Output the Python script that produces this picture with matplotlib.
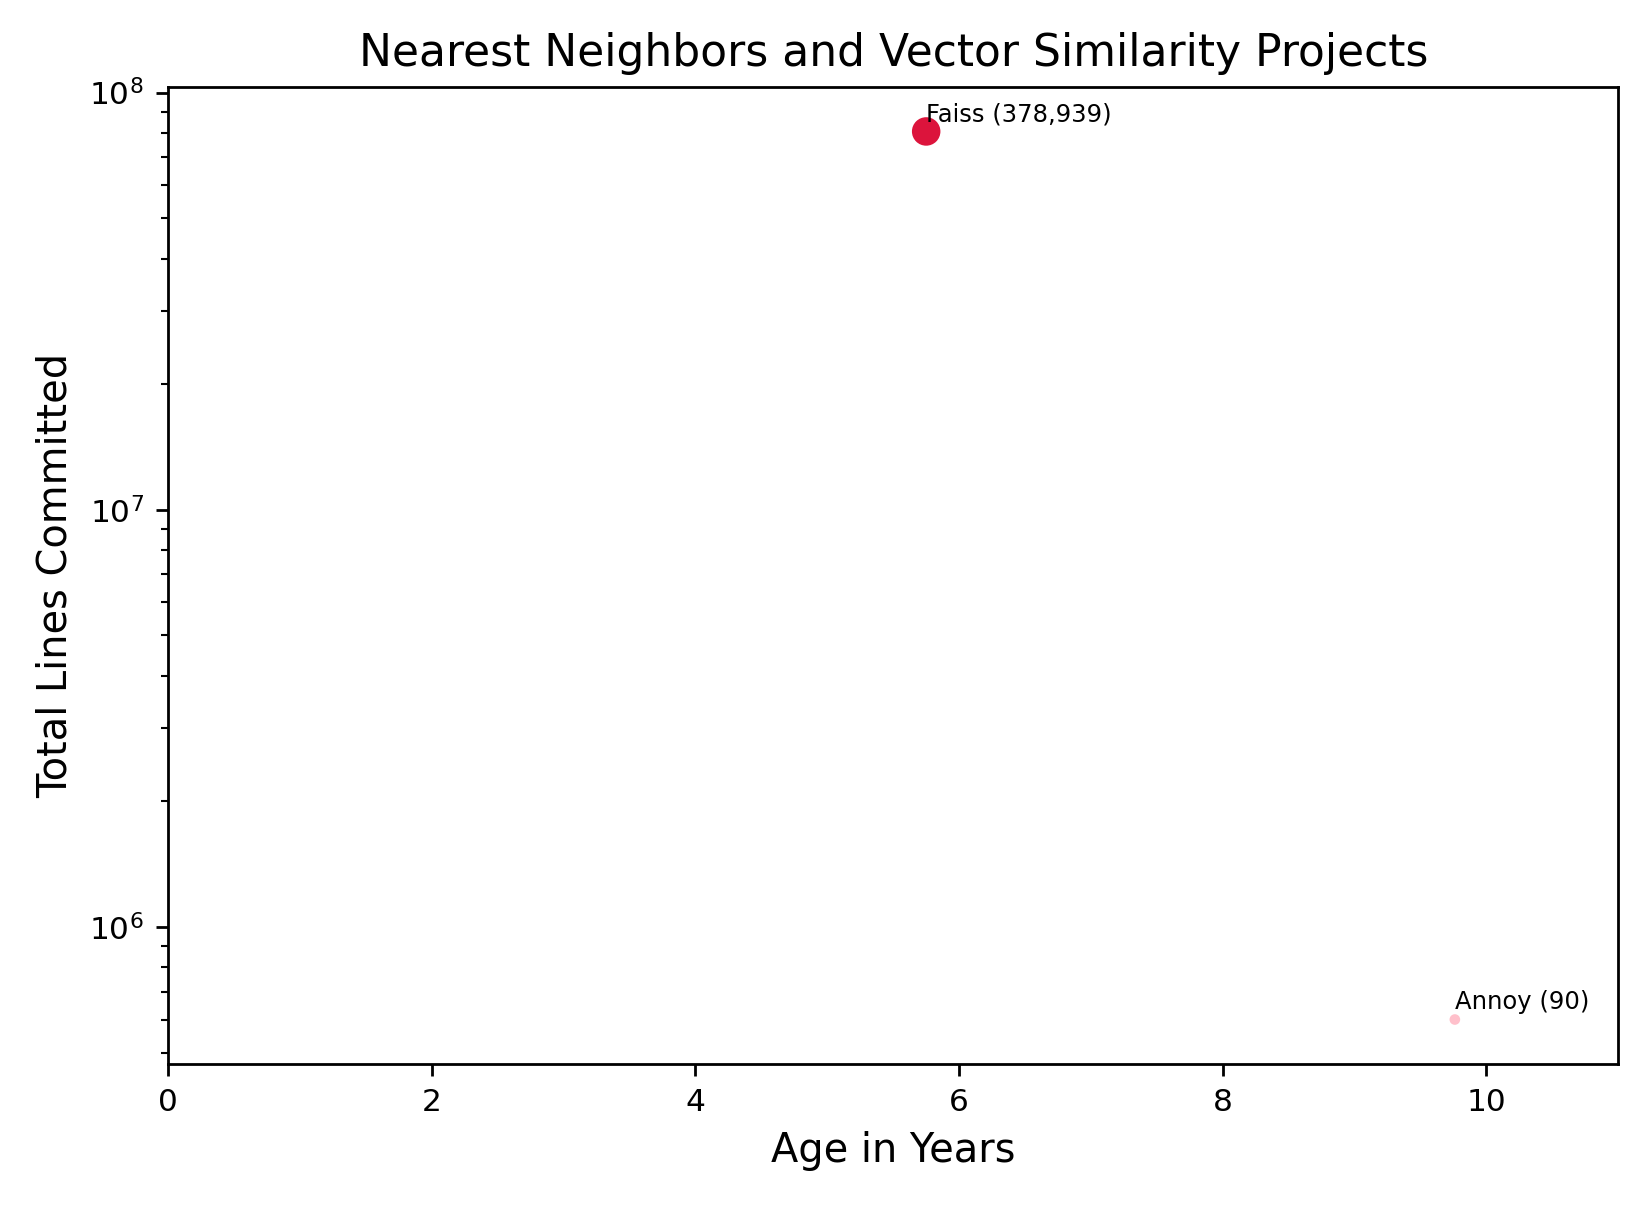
import numpy as np
import matplotlib
matplotlib.use("Agg")
import matplotlib.pyplot as plt

projects = ["Faiss", "Annoy"]
age_years = [5.75, 9.76]
total_lines = [8.07e7, 6.0e5]
counts = [378939, 90]
colors = ["crimson", "pink"]

fig, ax = plt.subplots(figsize=(6.592, 4.836), dpi=250)

sizes = np.array(counts, dtype=float) ** 0.3 * 1.1
ax.scatter(age_years, total_lines, s=sizes, c=colors, zorder=3)

for name, x, y, n in zip(projects, age_years, total_lines, counts):
    ax.annotate(f"{name} ({n:,})", (x, y), textcoords="offset points",
                xytext=(0, 3), fontsize=7)

ax.set_yscale("log")
ax.set_xlim(0, 11)
ax.set_title("Nearest Neighbors and Vector Similarity Projects", fontsize=12.7)
ax.set_xlabel("Age in Years", fontsize=11.5)
ax.set_ylabel("Total Lines Committed", fontsize=11.5)
ax.tick_params(labelsize=9)

fig.subplots_adjust(left=0.102, right=0.982, top=0.928, bottom=0.12)
plt.savefig("out.png", dpi=250)
